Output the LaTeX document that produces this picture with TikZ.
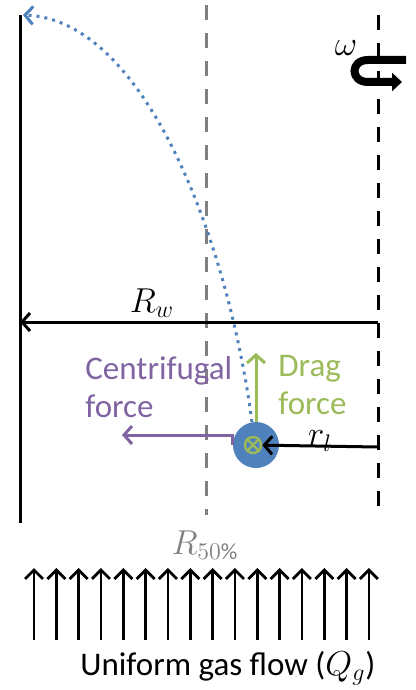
\documentclass[tikz,border=0pt]{standalone}
\usepackage{fontspec}
\setmainfont{Carlito}
\usepackage{tikz}
\usetikzlibrary{positioning,arrows.meta}
\definecolor{offblue}{HTML}{4F81BD}
\definecolor{offgreen}{HTML}{9BBB59}
\definecolor{offpurple}{HTML}{8064A2}
\definecolor{axisgray}{HTML}{808080}
\tikzset{
  wall/.style     ={draw, line width=1.5pt},
  axisline/.style ={draw, line width=1.5pt, dash pattern=on 7.5pt off 6.5pt},
  force/.style    ={line width=1.5pt, -{Straight Barb[length=4pt,width=9pt]}},
  flow/.style     ={line width=1.4pt, -{Straight Barb[length=4.5pt,width=9pt]}},
  traj/.style     ={offblue, line width=1.5pt, dash pattern=on 1.5pt off 2.5pt, -{Straight Barb[length=4pt,width=9pt]}},
  lbl/.style      ={font=\fontsize{16.5}{19}\selectfont, inner sep=0pt},
}

\begin{document}
\begin{tikzpicture}[x=0.5pt, y=-0.5pt]
  \useasboundingbox (0,0) rectangle (416,690);

  % wall, 50% radius and axis
  \coordinate (walltop) at (20,15);   \coordinate (wallbot) at (20,523);
  \coordinate (midtop)  at (206,5);   \coordinate (midbot)  at (206,515);
  \coordinate (axtop)   at (378,15);  \coordinate (axbot)   at (378,515);
  \draw[wall] (walltop) -- (wallbot);
  \draw[axisline, axisgray] (midtop) -- (midbot);
  \draw[axisline] (axtop) -- (axbot);

  % rotation
  \coordinate (rotin)  at (406,60);
  \coordinate (rotout) at (402,82);
  \draw[line width=4pt, -{Triangle[length=5pt,width=9pt]}] (rotin) -- (368,60) .. controls (350,60) and (350,82) .. (368,82) -- (rotout);
  \node[lbl] (omega) at (346,48) {$\omega$};

  % wall radius
  \coordinate (rwaxis) at (378,322);
  \coordinate (rwwall) at (20,322);
  \draw[force] (rwaxis) -- (rwwall);
  \node[lbl] (rw) at (152,303) {$R_w$};

  % particle
  \node[circle, fill=offblue, minimum size=23pt, inner sep=0pt] (drop) at (256,445) {};
  \node[circle, draw=offgreen, line width=1.2pt, minimum size=8pt, inner sep=0pt] (core) at (253,445) {};
  \draw[offgreen, line width=1.2pt] (core.north west) -- (core.south east) (core.north east) -- (core.south west);

  \coordinate (rlaxis) at (378,447);
  \draw[force] (rlaxis) -- (core);
  \node[lbl] (rl) at (320,441) {$r_l$};

  \coordinate (dragtip) at (256,353);
  \draw[force, offgreen] (drop.north) -- (dragtip);
  \node[lbl, offgreen, align=left, anchor=west, text depth=0pt] (drag) at (278,385) {Drag\\force};

  \coordinate (cftip) at (122,435);
  \draw[force, offpurple] (drop.west) |- (cftip);
  \node[lbl, offpurple, align=left, anchor=west] (cf) at (85,387) {Centrifugal\\force};

  \coordinate (trajend) at (23,15);
  \draw[traj] (drop.100) .. controls (228,240) and (145,20) .. (trajend);

  \node[lbl, axisgray] (r50) at (205,545) {$R_{50\%}$};

  % gas flow
  \foreach \i in {0,...,15}{
    \coordinate (gb\i) at ({34+22.33*\i},640);
    \coordinate (gt\i) at ({34+22.33*\i},568);
    \draw[flow] (gb\i) -- (gt\i);
  }
  \node[lbl, anchor=west] (gas) at (80,668) {Uniform gas flow ($Q_g$)};
\end{tikzpicture}
\end{document}
